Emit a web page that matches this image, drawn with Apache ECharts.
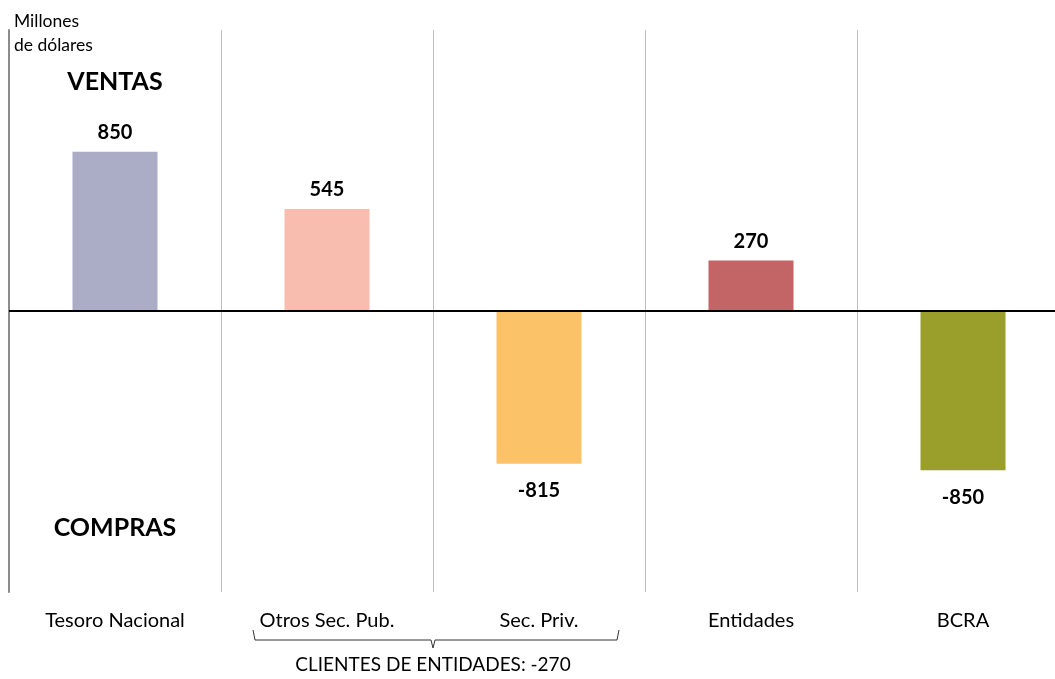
<!DOCTYPE html>
<html>
<head>
<meta charset="utf-8">
<script src="https://cdn.jsdelivr.net/npm/echarts@6/dist/echarts.min.js"></script>
<style>
    html, body { margin: 0; padding: 0; background: #fff; }
    #chart { width: 1055px; height: 679px; }
</style>
</head>
<body>
<div id="chart"></div>
<script>
// categorias y valores (millones de dolares)
var categories = ['Tesoro Nacional', 'Otros Sec. Pub.', 'Sec. Priv.', 'Entidades', 'BCRA'];
var values = [850, 545, -815, 270, -850];
var colors = ['#ABADC7', '#F9BDB0', '#FCC268', '#C36566', '#9A9F2C'];
// indices que forman "clientes de entidades"
var clientIdx = [1, 2];

(function(){
    var font = 'Lato, "Open Sans", sans-serif';
    var myChart = echarts.init(document.getElementById('chart'));

    var data = values.map(function(v, i){
        return {
            value: v,
            itemStyle: { color: colors[i] },
            label: { position: v >= 0 ? 'top' : 'bottom', distance: v >= 0 ? 9 : 17 }
        };
    });

    var option = {
        animation: false,
        // la ultima categoria queda cortada por el borde derecho
        grid: { left: 9, width: 1060, top: 30, bottom: 87, outerBoundsMode: 'none', containLabel: false },
        xAxis: {
            type: 'category',
            data: categories,
            axisLine: { show: false, onZero: false },
            axisTick: { show: false },
            axisLabel: { color: '#000', fontSize: 20, fontFamily: font, margin: 19 },
            splitLine: { show: true, lineStyle: { color: '#BDBDBD', width: 1 } }
        },
        yAxis: {
            type: 'value',
            min: -1500,
            max: 1500,
            interval: 500,
            axisLine: { show: true, lineStyle: { color: '#8C8C8C', width: 2 } },
            axisTick: { show: false },
            axisLabel: { show: false },
            splitLine: { show: false }
        },
        series: [{
            type: 'bar',
            data: data,
            barWidth: 85,
            label: {
                show: true,
                color: '#000',
                fontSize: 20,
                fontWeight: 'bold',
                fontFamily: font
            },
            markLine: {
                silent: true,
                symbol: 'none',
                label: { show: false },
                lineStyle: { color: '#000', width: 2, type: 'solid' },
                data: [{ yAxis: 0 }]
            }
        }]
    };
    myChart.setOption(option);

    // anotaciones: textos y llave bajo los clientes
    var c0 = myChart.convertToPixel({ xAxisIndex: 0 }, categories[0]);
    var cA = myChart.convertToPixel({ xAxisIndex: 0 }, categories[clientIdx[0]]);
    var cB = myChart.convertToPixel({ xAxisIndex: 0 }, categories[clientIdx[1]]);
    var mid = (cA + cB) / 2;
    var x1 = cA - 74, x2 = cB + 80;
    var total = 0;
    clientIdx.forEach(function(i){ total += values[i]; });

    var yTop = 630, yMid = 640, yTip = 648;
    myChart.setOption({
        graphic: [
            {
                type: 'text', left: 14, top: 9,
                style: { text: 'Millones\nde dólares', fill: '#000', font: '17.5px ' + font, lineHeight: 24 }
            },
            {
                type: 'text', x: c0, y: myChart.convertToPixel({ yAxisIndex: 0 }, 1225),
                style: { text: 'VENTAS', fill: '#000', font: 'bold 25px ' + font, align: 'center', verticalAlign: 'middle' }
            },
            {
                type: 'text', x: c0, y: myChart.convertToPixel({ yAxisIndex: 0 }, -1160),
                style: { text: 'COMPRAS', fill: '#000', font: 'bold 25px ' + font, align: 'center', verticalAlign: 'middle' }
            },
            {
                type: 'polyline',
                shape: { points: [[x1, yTop], [x1 + 2, yMid], [mid - 2, yMid], [mid, yTip], [mid + 2, yMid], [x2 - 2, yMid], [x2, yTop]] },
                style: { stroke: '#333', lineWidth: 1, fill: null }
            },
            {
                type: 'text', x: mid, y: 665,
                style: { text: 'CLIENTES DE ENTIDADES: ' + total, fill: '#000', font: '19px ' + font, align: 'center', verticalAlign: 'middle' }
            }
        ]
    });
})();
</script>
</body>
</html>
